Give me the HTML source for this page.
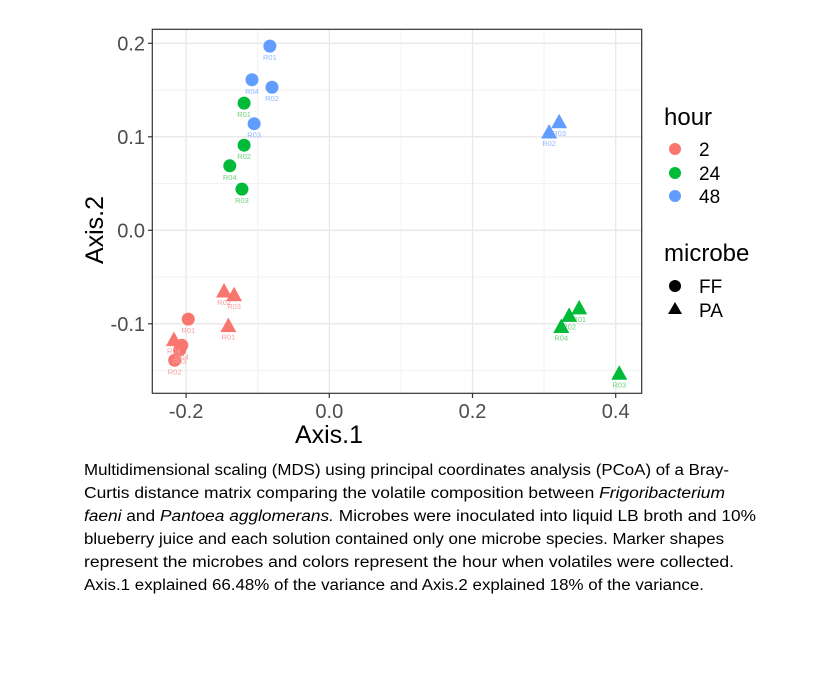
<!DOCTYPE html>
<html><head><meta charset="utf-8"><style>
body{margin:0;background:#fff;}
svg{display:block;font-family:"Liberation Sans",sans-serif;}
</style></head><body>
<svg id="chart" width="814" height="678" viewBox="0 0 814 678" xmlns="http://www.w3.org/2000/svg">
<rect x="0" y="0" width="814" height="678" fill="#fff"/>
<g id="grid"></g>
<g id="pts"></g>
<rect x="152.3" y="29.3" width="489.4" height="364" fill="none" stroke="#333" stroke-width="1.2"/>
<g id="axes"></g>
<text x="329" y="443" font-size="25" text-anchor="middle" fill="#000">Axis.1</text>
<text transform="translate(103,230) rotate(-90)" font-size="25" text-anchor="middle" fill="#000">Axis.2</text>
<g font-size="19" fill="#000">
<text x="664" y="125" font-size="24">hour</text>
<circle cx="675" cy="149" r="6" fill="#F8766D"/><text x="699" y="156">2</text>
<circle cx="675" cy="173" r="6" fill="#00BA38"/><text x="699" y="180">24</text>
<circle cx="675" cy="196" r="6" fill="#619CFF"/><text x="699" y="203">48</text>
<text x="664" y="261" font-size="24">microbe</text>
<circle cx="675" cy="286" r="6" fill="#000"/><text x="699" y="293">FF</text>
<polygon points="675,302 682,314 668,314" fill="#000"/><text x="699" y="317">PA</text>
</g>
<g font-size="15.5" fill="#000">
<text x="84" y="475" textLength="645" lengthAdjust="spacingAndGlyphs">Multidimensional scaling (MDS) using principal coordinates analysis (PCoA) of a Bray-</text>
<text x="84" y="498" textLength="641" lengthAdjust="spacingAndGlyphs">Curtis distance matrix comparing the volatile composition between <tspan font-style="italic">Frigoribacterium</tspan></text>
<text x="84" y="521" textLength="672" lengthAdjust="spacingAndGlyphs"><tspan font-style="italic">faeni</tspan> and <tspan font-style="italic">Pantoea agglomerans.</tspan> Microbes were inoculated into liquid LB broth and 10%</text>
<text x="84" y="544" textLength="640" lengthAdjust="spacingAndGlyphs">blueberry juice and each solution contained only one microbe species. Marker shapes</text>
<text x="84" y="567" textLength="650" lengthAdjust="spacingAndGlyphs">represent the microbes and colors represent the hour when volatiles were collected.</text>
<text x="84" y="590" textLength="620" lengthAdjust="spacingAndGlyphs">Axis.1 explained 66.48% of the variance and Axis.2 explained 18% of the variance.</text>
</g>
</svg>
<script>
const xVals=[-0.083,-0.108,-0.080,-0.105,-0.119,-0.119,-0.139,-0.122,-0.197,-0.216,-0.209,-0.206,-0.147,-0.133,-0.141,-0.217,0.321,0.307,0.349,0.335,0.324,0.405];
const yVals=[0.197,0.161,0.153,0.114,0.136,0.091,0.069,0.044,-0.095,-0.139,-0.128,-0.123,-0.066,-0.070,-0.103,-0.118,0.115,0.104,-0.084,-0.092,-0.104,-0.154];
const hours=[48,48,48,48,24,24,24,24,2,2,2,2,2,2,2,2,48,48,24,24,24,24];
const microbes=["FF","FF","FF","FF","FF","FF","FF","FF","FF","FF","FF","FF","PA","PA","PA","PA","PA","PA","PA","PA","PA","PA"];
const reps=["R01","R04","R02","R03","R01","R02","R04","R03","R01","R02","R03","R04","R02","R03","R01","R04","R03","R02","R01","R02","R04","R03"];
const xTicks=[-0.2,0.0,0.2,0.4];
const xTickLabels=["-0.2","0.0","0.2","0.4"];
const yTicks=[-0.1,0.0,0.1,0.2];
const yTickLabels=["-0.1","0.0","0.1","0.2"];
const xMinor=[-0.1,0.1,0.3];
const yMinor=[-0.15,-0.05,0.05,0.15];
const NS="http://www.w3.org/2000/svg";
const X=v=>329.3+v*716, Y=v=>230.3-v*935;
const col={2:"#F8766D",24:"#00BA38",48:"#619CFF"};
const lab={2:"#f7a1a0",24:"#6fd07a",48:"#8fb8ff"};
function mk(t,a,p){const e=document.createElementNS(NS,t);for(const k in a)e.setAttribute(k,a[k]);p.appendChild(e);return e;}
const g=document.getElementById("grid"),ax=document.getElementById("axes"),pts=document.getElementById("pts");
xMinor.forEach(v=>{const l=mk("line",{x1:X(v),x2:X(v),y1:29.3,y2:393.3,stroke:"#f2f2f2","stroke-width":1},g);

});
yMinor.forEach(v=>{const l=mk("line",{x1:152.3,x2:641.7,y1:Y(v),y2:Y(v),stroke:"#f2f2f2","stroke-width":1},g);

});
xTicks.forEach((v,i)=>{const l=mk("line",{x1:X(v),x2:X(v),y1:29.3,y2:393.3,stroke:"#e8e8e8","stroke-width":1.3},g);


mk("line",{x1:X(v),x2:X(v),y1:393.3,y2:398,stroke:"#333","stroke-width":1.2},ax);
const t=mk("text",{x:X(v),y:418,"font-size":20,"text-anchor":"middle",fill:"#4d4d4d"},ax);t.textContent=xTickLabels[i];

});
yTicks.forEach((v,i)=>{const l=mk("line",{x1:152.3,x2:641.7,y1:Y(v),y2:Y(v),stroke:"#e8e8e8","stroke-width":1.3},g);


mk("line",{x1:148,x2:152.3,y1:Y(v),y2:Y(v),stroke:"#333","stroke-width":1.2},ax);
const t=mk("text",{x:145,y:Y(v)+7,"font-size":20,"text-anchor":"end",fill:"#4d4d4d"},ax);t.textContent=yTickLabels[i];

});
xVals.forEach((v,i)=>{const cx=X(v),cy=Y(yVals[i]),c=col[hours[i]];let m;
if(microbes[i]==="FF"){m=mk("circle",{cx:cx,cy:cy,r:6.5,fill:c},pts);}
else{m=mk("polygon",{points:`${cx},${cy-9} ${cx+8},${cy+5.5} ${cx-8},${cy+5.5}`,fill:c},pts);}


const t=mk("text",{x:cx,y:cy+(microbes[i]==="FF"?14:13),"font-size":7.5,"text-anchor":"middle",fill:lab[hours[i]]},pts);t.textContent=reps[i];

});
</script>
</body></html>
